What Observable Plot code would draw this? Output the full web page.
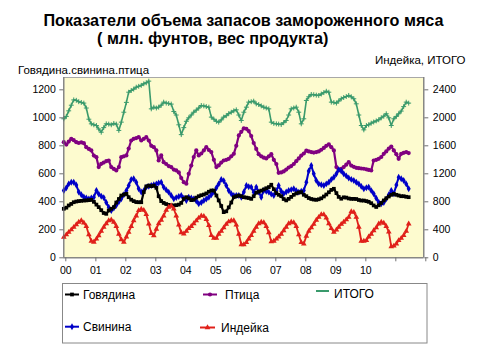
<!DOCTYPE html>
<html><head><meta charset="utf-8">
<script src="https://cdn.jsdelivr.net/npm/d3@7"></script>
<script src="https://cdn.jsdelivr.net/npm/@observablehq/plot@0.6"></script>
<style>
body{margin:0;background:#fff;font-family:"Liberation Sans",Arial,sans-serif;}
#wrap{position:relative;width:478px;height:362px;overflow:hidden;background:#fff;}
.t{position:absolute;white-space:nowrap;color:#000;line-height:1;}
#plot{position:absolute;left:0;top:0;}
#leg{position:absolute;left:0;top:0;}
</style></head><body>
<div id="wrap">
<div id="plot"></div>
<div class="t" style="left:0;width:487px;text-align:center;top:11.5px;font-size:16.2px;font-weight:bold">Показатели объема запасов замороженного мяса</div>
<div class="t" style="left:97px;top:29.5px;font-size:16.2px;font-weight:bold">( млн. фунтов, вес продукта)</div>
<div class="t" style="left:18px;top:65px;font-size:11.5px">Говядина.свинина.птица</div>
<div class="t" style="left:375px;top:55px;font-size:11.5px">Индейка, ИТОГО</div>
<svg id="leg" width="478" height="362"></svg>
</div>
<script>
// ---- data (monthly, Jan 2000 – Jul 2011) ----
const beef = [
350,358,374,385,397,402,405,407,409,410,412,414,
400,380,362,340,320,314,338,350,362,395,420,445,
452,457,433,415,405,398,397,397,470,510,516,512,
516,500,440,405,392,384,378,374,374,376,380,392,
421,433,425,412,415,430,440,447,452,460,472,481,
481,445,410,370,326,332,360,395,433,440,445,440,
433,430,427,421,440,465,472,480,488,497,505,522,
490,462,450,440,420,410,421,435,450,460,466,469,
450,440,427,420,416,414,418,425,438,452,468,485,
493,462,435,422,432,430,424,421,421,420,413,409,
409,405,400,390,374,363,375,392,410,425,438,450,
457,450,445,440,440,436,433];
const pork = [
481,500,528,540,540,520,470,450,435,428,421,428,
433,481,455,440,430,395,362,338,355,375,400,421,
450,481,516,560,565,540,493,470,480,505,510,516,
522,528,535,540,505,485,469,445,421,430,438,445,
425,409,433,428,421,405,386,395,409,420,433,450,
469,500,528,560,550,516,480,457,445,445,445,433,
470,516,508,505,469,505,470,433,481,475,469,455,
445,480,516,475,457,470,481,487,493,480,469,475,
481,540,620,659,600,552,528,522,516,528,540,560,
576,600,630,620,600,585,570,560,552,540,528,510,
493,500,505,480,457,425,397,386,395,421,450,481,
457,520,576,565,552,528,493];
const poultry = [
826,809,830,850,840,826,820,825,819,790,778,767,
730,719,648,671,680,690,695,648,635,624,648,719,
725,731,780,838,850,855,862,838,850,862,838,800,
790,767,695,731,683,670,655,648,630,624,610,570,
540,529,600,659,720,767,731,745,767,790,770,755,
700,648,660,680,695,700,707,725,743,800,874,900,
925,921,905,870,820,778,740,725,715,710,725,740,
700,670,607,610,617,630,645,655,670,690,710,730,
745,765,760,755,752,755,760,772,785,800,810,790,
767,648,624,635,648,665,683,659,650,643,640,638,
636,632,628,624,695,700,707,720,743,760,780,795,
767,740,707,743,750,755,748];
// right-axis series
const turkey = [
294,330,366,402,438,474,510,532,500,450,330,240,
224,270,318,380,438,490,532,542,510,450,340,260,
224,300,366,450,532,600,676,696,680,620,486,350,
318,410,490,540,600,680,724,744,700,600,470,360,
342,380,420,450,490,530,570,600,594,550,462,320,
280,280,340,380,430,480,516,532,532,470,340,190,
190,220,270,320,380,440,490,510,504,450,360,230,
240,270,300,340,390,440,490,510,504,450,330,220,
200,310,380,430,480,540,580,620,618,570,490,420,
366,400,438,480,510,544,580,660,652,580,440,240,
240,248,300,340,390,430,486,510,496,450,370,160,
170,200,248,280,320,380,486];
const total = [
1986,2020,2100,2180,2256,2250,2230,2220,2210,2140,1980,1914,
1900,1890,1840,1794,1860,1914,1910,1900,1920,1910,1820,1938,
2080,2220,2366,2390,2410,2438,2450,2464,2486,2500,2524,2128,
2152,2140,2152,2180,2224,2210,2204,2196,2090,2040,1900,1760,
1860,1950,2000,2040,2080,2110,2140,2176,2170,2160,2152,2010,
1980,1950,1938,1970,2010,2030,2060,2080,2100,2114,2040,1962,
2080,2152,2224,2230,2238,2200,2190,2170,2152,2140,2128,1938,
1920,1914,1910,1904,1930,1962,2040,2128,2140,2152,2080,1914,
1986,2248,2300,2334,2330,2324,2320,2340,2360,2380,2366,2224,
2220,2210,2240,2272,2290,2304,2320,2300,2272,2200,2040,1890,
1828,1890,1900,1924,1940,1956,1972,2000,2024,2058,2000,1890,
1986,2020,2058,2096,2160,2224,2210];

const yearLabels = ["00","01","02","03","04","05","06","07","08","09","10","",""];
const leftTicks = [0,200,400,600,800,1000,1200];
const leftTickLabels = ["0","200","400","600","800","1000","1200"];
const rightTickLabels = ["0","400","800","1200","1600","2000","2400"];
const names = ["Говядина","Птица","ИТОГО","Свинина","Индейка"];

const dates = beef.map((_, i) => new Date(Date.UTC(2000, i, 1)));
const yearTicks = yearLabels.map((_, i) => new Date(Date.UTC(2000 + i, 0, 1)));

const series = [
  {name: names[2], values: total, right: true, color: "#3a9a6c", symbol: "plus", w: 1.6},
  {name: names[1], values: poultry, right: false, color: "#800080", symbol: "circle", w: 2.2},
  {name: names[3], values: pork, right: false, color: "#0000c8", symbol: "diamond", w: 2},
  {name: names[0], values: beef, right: false, color: "#000000", symbol: "square", w: 2.2},
  {name: names[4], values: turkey, right: true, color: "#e0201a", symbol: "triangle", w: 1.8}
];

const marks = [
  Plot.frame({fill: "#fdfbcf", stroke: "#a8a8a8"}),
];
for (const s of series) {
  const data = s.values.map((v, i) => ({date: dates[i], v: s.right ? v / 2 : v}));
  marks.push(Plot.line(data, {x: "date", y: "v", stroke: s.color, strokeWidth: s.w}));
  if (s.symbol === "plus") {
    marks.push(Plot.dot(data, {x: "date", y: "v", symbol: "plus", r: 1.7, stroke: s.color, strokeWidth: 1}));
  } else {
    marks.push(Plot.dot(data, {x: "date", y: "v", symbol: s.symbol, r: 2.1, fill: s.color, stroke: "none"}));
  }
}
marks.push(
  Plot.ruleX([yearTicks[0]], {stroke: "#707070"}),
  Plot.ruleX([yearTicks[12]], {stroke: "#707070"}),
  Plot.ruleY([0], {stroke: "#707070"}),
  Plot.axisY(leftTicks, {anchor: "left", tickSize: 4, tickPadding: 4, label: null, fontSize: 10.5, fill: "#000", stroke: "#707070",
    tickFormat: d => leftTickLabels[leftTicks.indexOf(d)]}),
  Plot.axisY(leftTicks, {anchor: "right", tickSize: 4, tickPadding: 5, label: null, fontSize: 10.5, fill: "#000", stroke: "#707070",
    tickFormat: d => rightTickLabels[leftTicks.indexOf(d)]}),
  Plot.axisX(yearTicks, {anchor: "bottom", tickSize: 4, tickPadding: 5, label: null, fontSize: 10.5, fill: "#000", stroke: "#707070", dx: 2,
    tickFormat: d => yearLabels[d.getUTCFullYear() - 2000]})
);

const chart = Plot.plot({
  width: 478, height: 285,
  marginLeft: 63.3, marginRight: 54.7, marginTop: 77, marginBottom: 27.7,
  style: {fontFamily: "'Liberation Sans', Arial, sans-serif", background: "transparent", overflow: "visible", color: "#000"},
  x: {type: "utc", domain: [yearTicks[0], yearTicks[12]]},
  y: {domain: [0, 1288]},
  marks
});
document.getElementById("plot").appendChild(chart);

// ---- legend ----
const leg = d3.select("#leg");
leg.append("rect").attr("x", 62.5).attr("y", 283.5).attr("width", 364.5).attr("height", 59.5)
  .attr("fill", "#fff").attr("stroke", "#888").attr("stroke-width", 1);
const legItems = [
  {s: series[3], x0: 65, x1: 79, y: 294.5, tx: 83},
  {s: series[1], x0: 203, x1: 217, y: 294.5, tx: 225},
  {s: series[0], x0: 316, x1: 329, y: 291, tx: 334, ty: 293.5},
  {s: series[2], x0: 65, x1: 79, y: 326.7, tx: 83},
  {s: series[4], x0: 200, x1: 215, y: 327.5, tx: 221}
];
const symMap = {square: d3.symbolSquare, circle: d3.symbolCircle, diamond: d3.symbolDiamond, triangle: d3.symbolTriangle};
for (const it of legItems) {
  leg.append("line").attr("x1", it.x0).attr("x2", it.x1).attr("y1", it.y).attr("y2", it.y)
    .attr("stroke", it.s.color).attr("stroke-width", 2);
  if (symMap[it.s.symbol]) {
    leg.append("path").attr("d", d3.symbol(symMap[it.s.symbol], 14)())
      .attr("transform", `translate(${(it.x0 + it.x1) / 2},${it.y})`).attr("fill", it.s.color);
  }
  leg.append("text").attr("x", it.tx).attr("y", (it.ty || it.y) + 4.3)
    .attr("font-size", 12).attr("font-family", "'Liberation Sans', Arial, sans-serif")
    .attr("fill", "#000").text(it.s.name);
}
</script>
</body></html>
